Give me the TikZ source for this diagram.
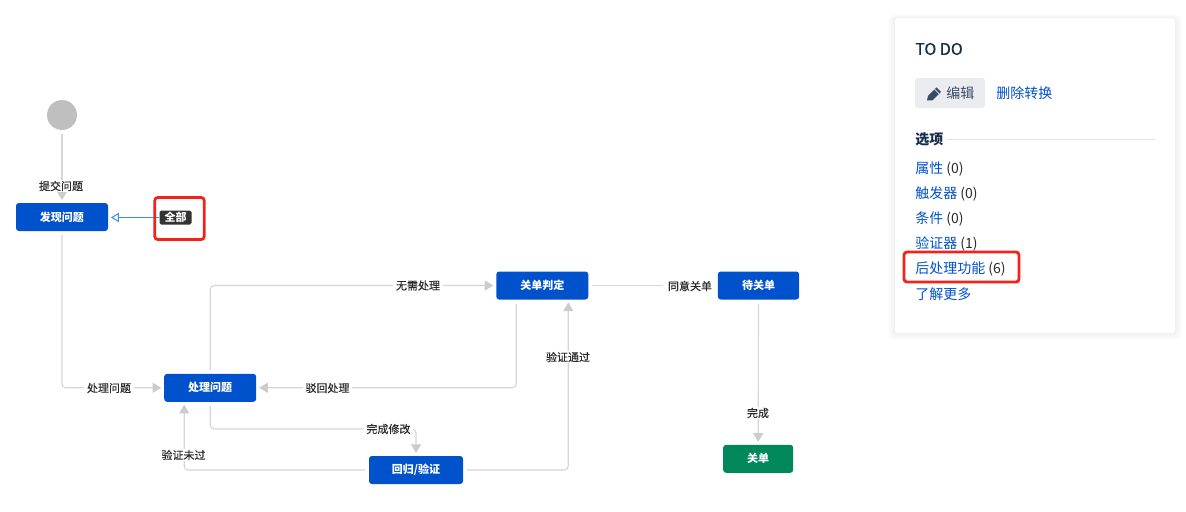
\documentclass[tikz,border=0pt]{standalone}
\usepackage{fontspec}
\setmainfont{Noto Sans CJK SC}
\newfontfamily\labfont[FakeBold=0.25]{Noto Sans CJK SC}
\usetikzlibrary{arrows.meta}
\def\px{*0.75pt}
\definecolor{jblue}{HTML}{0052CC}
\definecolor{jgreen}{HTML}{00875A}
\definecolor{edgegray}{HTML}{D6D6D6}
\definecolor{tipgray}{HTML}{CCCCCC}
\definecolor{ink}{HTML}{172B4D}
\definecolor{txt}{HTML}{2A2A2A}
\definecolor{redbox}{HTML}{F5221B}
\definecolor{tagdark}{HTML}{333333}
\definecolor{btn}{HTML}{EBECF0}
\definecolor{rule}{HTML}{E1E3E6}
\definecolor{arrowblue}{HTML}{3B8FEA}
\definecolor{startgray}{HTML}{BFBFBF}
\tikzset{
  state/.style={fill=#1,rounded corners=2.2pt,text=white,font=\fontsize{8.25pt}{10pt}\selectfont\bfseries,inner sep=0pt,outer sep=0pt,minimum height=21pt},
  edge/.style={draw=edgegray,line width=0.85pt,rounded corners=3pt,-{Triangle[length=6.5pt,width=7.5pt,color=tipgray,fill=tipgray]},shorten >=2.2pt,shorten <=3pt},
  lab/.style={fill=white,text=txt,font=\fontsize{8.25pt}{10pt}\labfont,inner xsep=2pt,inner ysep=0.5pt},
  redmark/.style={draw=redbox,line width=2.1pt,rounded corners=2.2pt,fill=none},
  link/.style={anchor=west,inner sep=0pt,text=jblue,font=\fontsize{10.5pt}{13pt}\selectfont},
}
\begin{document}
\begin{tikzpicture}[x=0.75pt,y=-0.75pt]
\useasboundingbox (0,0) rectangle (1186,511);
\fill[white] (0,0) rectangle (1186,511);
% states
\node[circle,fill=startgray,minimum size=22.5pt,inner sep=0pt,outer sep=0pt] (start) at (62,115) {};
\node[state=jblue,minimum width=69pt] (find) at (62,217) {发现问题};
\node[state=jblue,minimum width=69pt] (work) at (210.2,387.8) {处理问题};
\node[state=jblue,minimum width=69pt] (judge) at (542.3,285.5) {关单判定};
\node[state=jblue,minimum width=61pt] (wait) at (758.5,285.5) {待关单};
\node[state=jgreen,minimum width=52.5pt] (closed) at (758.2,458.8) {关单};
\node[state=jblue,minimum width=70.5pt] (check) at (416,470) {回归/验证};
% global tag
\node[fill=tagdark,rounded corners=1.2pt,text=white,inner sep=0pt,minimum width=24pt,minimum height=10.5pt,font=\fontsize{8.25pt}{10pt}\selectfont\bfseries] (all) at (175.5,217.5) {全部};
% connectors
\draw[edge] (start.south) -- (find.north);
\draw[edge] (find.south) |- (work.west);
\draw[draw=arrowblue,line width=0.75pt,-{Triangle[open,length=6pt,width=7pt]},shorten >=2.2pt] (all.west) -- (all.west -| find.east);
\draw[edge] (work.north) |- (judge.west);
\draw[edge] ([xshift=-26\px]judge.south) |- (work.east);
\coordinate (workdrop) at (210.2,429);
\draw[edge] (work.south) |- (workdrop -| check.north) -- (check.north);
\draw[edge] (check.west) -| ([xshift=-26\px]work.south);
\draw[edge] (check.east) -| ([xshift=26\px]judge.south);
\draw[edge] (judge.east) -- (wait.west);
\draw[edge] (wait.south) -- (closed.north);
% connector labels
\node[lab] (l1) at (61,186) {提交问题};
\node[lab] (l2) at (109,388) {处理问题};
\node[lab] (l3) at (418,285.5) {无需处理};
\node[lab] (l4) at (327.5,388) {驳回处理};
\node[lab] (l5) at (388.5,429) {完成修改};
\node[lab] (l6) at (183.5,455) {验证未过};
\node[lab] (l7) at (568,357) {验证通过};
\node[lab,inner xsep=4pt] (l8) at (690,286) {同意关单};
\node[lab] (l9) at (758,413) {完成};
% red marks
\node[redmark,minimum width=37pt,minimum height=31.5pt,inner sep=0pt] (markall) at (179.5,218.5) {};
% side panel
\foreach \s in {7,5.5,4,2.5,1}{
  \fill[black,opacity=0.012,rounded corners=4pt] (895-\s,18-\s*0.5) rectangle (1175+\s,333+\s);
}
\node[fill=white,rounded corners=2.2pt,minimum width=210pt,minimum height=236.25pt,inner sep=0pt,outer sep=0pt] (panel) at (1035,175.5) {};
\node[anchor=west,inner sep=0pt,text=ink,font=\fontsize{12pt}{14pt}\labfont] (title) at (915,49) {TO DO};
\node[fill=btn,rounded corners=2.2pt,minimum width=52.5pt,minimum height=22.5pt,inner sep=0pt] (editbtn) at (950,93) {};
\fill[ink!85!white] (927,100.5) -- (928,95.8) -- (936.5,87.3) -- (941,91.8) -- (932.5,100.3) -- cycle;
\draw[btn,line width=0.5pt] (934.6,89.2) -- (939.1,93.7);
\node[anchor=west,inner sep=0pt,text=ink!85!white,font=\fontsize{10.5pt}{13pt}\selectfont] (edittxt) at (946,93) {编辑};
\node[link] (del) at (996,93) {删除转换};
\node[anchor=west,inner sep=0pt,text=ink,font=\fontsize{10.5pt}{13pt}\selectfont\bfseries] (opt) at (915,139) {选项};
\coordinate (ruleend) at (1155,139);
\draw[rule,line width=0.75pt] ([xshift=3\px]opt.east) -- (ruleend);
\node[link] (i1) at (915,169) {属性 \textcolor{txt}{(0)}};
\node[link] (i2) at (915,194) {触发器 \textcolor{txt}{(0)}};
\node[link] (i3) at (915,219) {条件 \textcolor{txt}{(0)}};
\node[link] (i4) at (915,244) {验证器 \textcolor{txt}{(1)}};
\node[link] (i5) at (915,269) {后处理功能 \textcolor{txt}{(6)}};
\node[link] (i6) at (915,294) {了解更多};
\node[redmark,minimum width=86.25pt,minimum height=22.5pt,inner sep=0pt] (markpost) at (961.5,267) {};
\end{tikzpicture}
\end{document}
